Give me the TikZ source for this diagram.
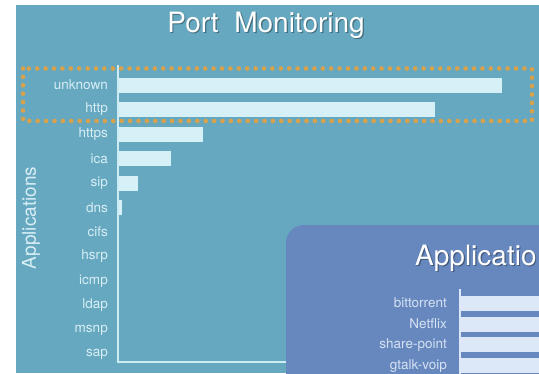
\documentclass[tikz,border=0pt]{standalone}
\usepackage{fontspec}
\setmainfont{TeX Gyre Heros}
\definecolor{slidebg}{HTML}{66A8C0}
\definecolor{panelbg}{HTML}{6688BE}
\definecolor{barfill}{HTML}{D6F0F8}
\definecolor{panelbar}{HTML}{DCE8F8}
\definecolor{axisline}{HTML}{CDEBF3}
\definecolor{labeltext}{HTML}{D8EEF5}
\definecolor{panellabel}{HTML}{D6E2F3}
\definecolor{dotcolor}{HTML}{D9A24A}
\tikzset{
  applabel/.style={anchor=east, text=labeltext, font=\fontsize{13.5}{14}\selectfont, inner sep=0pt},
  panelapp/.style={anchor=east, text=panellabel, font=\fontsize{13.5}{14}\selectfont, inner sep=0pt},
  bar/.style={fill=barfill, draw=none},
  pbar/.style={fill=panelbar, draw=none},
  axis/.style={draw=axisline, line width=1.4pt},
  bigtitle/.style={text=white, font=\fontsize{28}{30}\selectfont, inner sep=0pt},
  titleshadow/.style={text=black, opacity=0.35, font=\fontsize{28}{30}\selectfont, inner sep=0pt},
  highlight/.style={draw=dotcolor, line width=4.6pt, line cap=round, dash pattern=on 0pt off 8.4pt}
}
\begin{document}
\begin{tikzpicture}[x=1pt, y=-1pt]
  \useasboundingbox (0,0) rectangle (539,373);
  \clip (0,0) rectangle (539,373);
  \fill[white] (0,0) rectangle (539,373);
  \fill[slidebg] (16,5) rectangle (539,373);

  % title
  \node[titleshadow, anchor=base] at (267.2,33.4) {Port\ \ Monitoring};
  \node[bigtitle, anchor=base] (title) at (266,32) {Port\ \ Monitoring};

  % axes of the main chart
  \coordinate (ytop) at (118,65);
  \coordinate (origin) at (118,362);
  \coordinate (xend) at (287,362);
  \draw[axis] (ytop) -- (origin) -- (xend);

  % bars
  \fill[bar] (119,77.5) rectangle (502,92.5);
  \fill[bar] (119,102) rectangle (435,117);
  \fill[bar] (119,127) rectangle (203,142);
  \fill[bar] (119,151) rectangle (171,166);
  \fill[bar] (119,175.5) rectangle (138,190.5);
  \fill[bar] (119,200) rectangle (122,215);

  % category labels
  \node[applabel] (l1) at (108,85) {unknown};
  \node[applabel] (l2) at (108,109.5) {http};
  \node[applabel] (l3) at (108,134.5) {https};
  \node[applabel] (l4) at (108,158.5) {ica};
  \node[applabel] (l5) at (108,183) {sip};
  \node[applabel] (l6) at (108,207.5) {dns};
  \node[applabel] (l7) at (108,232) {cifs};
  \node[applabel] (l8) at (108,256.5) {hsrp};
  \node[applabel] (l9) at (108,281) {icmp};
  \node[applabel] (l10) at (108,305.5) {ldap};
  \node[applabel] (l11) at (108,330) {msnp};
  \node[applabel] (l12) at (108,354.5) {sap};

  % axis title
  \node[text=labeltext, font=\fontsize{19}{20}\selectfont, rotate=90, inner sep=0pt] (ytitle) at (31,218) {Applications};

  % highlight around the top two rows
  \draw[highlight] (23,68.5) rectangle (532,121);

  % overlapping panel
  \fill[panelbg, rounded corners=18pt] (286,225) rectangle (580,420);
  \node[titleshadow, anchor=base west] at (416.2,266.4) {Applicatio};
  \node[bigtitle, anchor=base west] (ptitle) at (415,265) {Applicatio};

  \coordinate (ptop) at (460,289);
  \coordinate (pbot) at (460,380);
  \draw[draw=panelbar, line width=1.2pt] (ptop) -- (pbot);
  \fill[pbar] (461,295.5) rectangle (560,310.5);
  \fill[pbar] (461,316.5) rectangle (560,331.5);
  \fill[pbar] (461,337) rectangle (560,352);
  \fill[pbar] (461,358) rectangle (560,373);

  \node[panelapp] (p1) at (447,303) {bittorrent};
  \node[panelapp] (p2) at (447,324) {Netflix};
  \node[panelapp] (p3) at (447,345) {share-point};
  \node[panelapp] (p4) at (447,366) {gtalk-voip};
\end{tikzpicture}
\end{document}
